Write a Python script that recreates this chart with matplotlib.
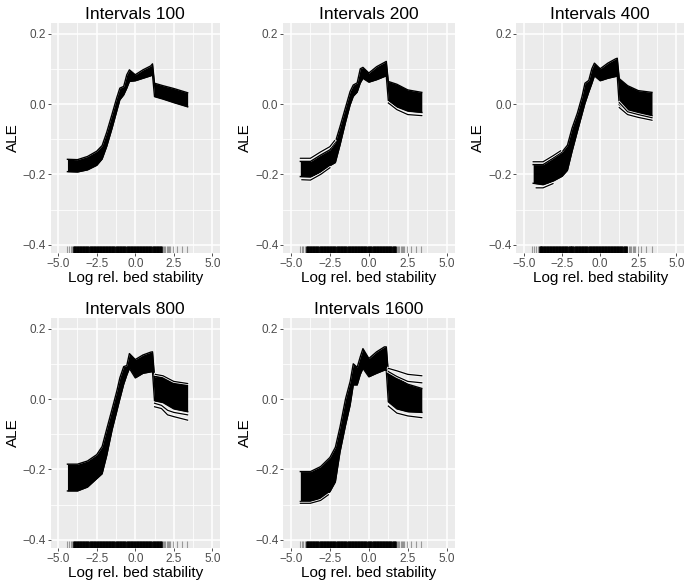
import matplotlib.pyplot as plt
import matplotlib.patheffects as pe

plt.rcParams['font.family'] = ['Liberation Sans', 'DejaVu Sans']

x_knots = [-4.4, -3.75, -3.1, -2.5, -2.15, -1.85, -1.5, -1.2, -1.0, -0.75,
           -0.55, -0.38, 0.0, 0.5, 1.0, 1.12, 1.25, 1.8, 2.5, 3.4]

titles = ['Intervals 100', 'Intervals 200', 'Intervals 400',
          'Intervals 800', 'Intervals 1600']

# upper / lower edge of the bundle of ALE curves, per panel
upper_100 = [-0.157, -0.158, -0.149, -0.134, -0.118, -0.080, -0.028, 0.018, 0.045, 0.050,
             0.083, 0.097, 0.083, 0.097, 0.108, 0.114, 0.059, 0.052, 0.044, 0.032]
lower_100 = [-0.192, -0.193, -0.187, -0.174, -0.156, -0.120, -0.068, -0.020, 0.012, 0.026,
             0.045, 0.064, 0.066, 0.073, 0.080, 0.083, 0.021, 0.014, 0.004, -0.008]

upper_200 = [-0.163, -0.163, -0.145, -0.130, -0.108, -0.064, -0.010, 0.036, 0.054, 0.060,
             0.100, 0.104, 0.088, 0.106, 0.118, 0.121, 0.064, 0.056, 0.040, 0.033]
lower_200 = [-0.206, -0.207, -0.193, -0.175, -0.166, -0.116, -0.052, -0.002, 0.022, 0.034,
             0.060, 0.073, 0.062, 0.069, 0.078, 0.080, 0.010, -0.008, -0.020, -0.024]

upper_400 = [-0.172, -0.172, -0.154, -0.136, -0.117, -0.069, -0.026, 0.020, 0.059, 0.067,
             0.100, 0.116, 0.100, 0.116, 0.128, 0.130, 0.072, 0.052, 0.038, 0.033]
lower_400 = [-0.225, -0.229, -0.219, -0.205, -0.188, -0.135, -0.078, -0.030, 0.002, 0.034,
             0.058, 0.080, 0.066, 0.073, 0.078, 0.080, -0.002, -0.020, -0.028, -0.034]

upper_800 = [-0.185, -0.185, -0.176, -0.158, -0.135, -0.085, -0.028, 0.022, 0.060, 0.092,
             0.095, 0.129, 0.112, 0.125, 0.133, 0.134, 0.063, 0.066, 0.050, 0.044]
lower_800 = [-0.261, -0.261, -0.250, -0.226, -0.212, -0.160, -0.087, -0.035, 0.000, 0.042,
             0.068, 0.087, 0.060, 0.073, 0.077, 0.078, -0.005, -0.010, -0.028, -0.036]

upper_1600 = [-0.206, -0.206, -0.192, -0.166, -0.137, -0.079, 0.000, 0.050, 0.100, 0.090,
              0.120, 0.143, 0.115, 0.134, 0.148, 0.148, 0.075, 0.060, 0.042, 0.030]
lower_1600 = [-0.291, -0.291, -0.282, -0.263, -0.235, -0.150, -0.075, -0.017, 0.040, 0.040,
              0.070, 0.087, 0.063, 0.073, 0.082, 0.082, -0.008, -0.028, -0.036, -0.038]

# single curves that stand apart from the bundle: (x, y)
edges_100 = []
edges_200 = [([-4.4, -3.75, -3.1, -2.5, -2.2], [-0.154, -0.154, -0.136, -0.121, -0.104]),
             ([-4.3, -3.75, -3.1, -2.5], [-0.215, -0.216, -0.200, -0.181]),
             ([1.25, 1.8, 2.5, 3.4], [0.003, -0.016, -0.030, -0.033])]
edges_400 = [([-4.4, -3.75, -3.1, -2.6], [-0.164, -0.164, -0.147, -0.133]),
             ([-4.2, -3.75, -3.1], [-0.238, -0.238, -0.226]),
             ([1.25, 1.8, 2.5, 3.4], [-0.010, -0.030, -0.038, -0.046]),
             ([1.25, 1.8, 2.5, 3.4], [0.004, -0.022, -0.030, -0.039])]
edges_800 = [([1.25, 1.7, 2.1, 2.5, 3.4], [-0.022, -0.027, -0.045, -0.050, -0.060]),
             ([1.25, 1.7, 2.1, 2.5, 3.4], [-0.012, -0.018, -0.032, -0.038, -0.045]),
             ([1.3, 1.8, 2.5, 3.4], [0.070, 0.066, 0.050, 0.044])]
edges_1600 = [([1.25, 1.8, 2.5, 3.4], [0.087, 0.080, 0.070, 0.066]),
              ([1.25, 1.8, 2.5, 3.4], [0.078, 0.064, 0.050, 0.046]),
              ([1.25, 1.8, 2.5, 3.4], [-0.020, -0.040, -0.048, -0.053]),
              ([-4.4, -3.75, -3.1, -2.6], [-0.296, -0.296, -0.288, -0.272])]

uppers = [upper_100, upper_200, upper_400, upper_800, upper_1600]
lowers = [lower_100, lower_200, lower_400, lower_800, lower_1600]
edges = [edges_100, edges_200, edges_400, edges_800, edges_1600]

# rug of observed x values (dense core and sparse tails)
rug_dense = [-3.98, -3.9, -3.8, -3.72, -3.6, -3.52, -3.41, -3.3, -3.22, -3.1, -3.02, -2.9,
             -2.81, -2.7, -2.62, -2.5, -2.41, -2.3, -2.22, -2.1, -2.01, -1.9, -1.82, -1.7,
             -1.61, -1.5, -1.42, -1.3, -1.21, -1.1, -1.02, -0.9, -0.81, -0.7, -0.62, -0.5,
             -0.41, -0.3, -0.22, -0.1, -0.02, 0.1, 0.18, 0.3, 0.38, 0.5, 0.58, 0.7, 0.79,
             0.9, 0.98, 1.1, 1.19, 1.3, 1.38, 1.5, 1.6, 1.7]
rug_light = [-4.45, -4.32, -4.2, -4.08, 1.78, 1.86, 1.95, 2.05, 2.12, 2.2, 2.28,
             2.47, 2.69, 3.01, 3.38]

x_ticks = [-5.0, -2.5, 0.0, 2.5, 5.0]
x_minor = [-3.75, -1.25, 1.25, 3.75]
y_ticks = [-0.4, -0.2, 0.0, 0.2]
y_minor = [-0.3, -0.1, 0.1]

W, H = 685, 582
# panel boxes in pixels: left, top, right, bottom
boxes = [(50.5, 23, 220, 253), (283.2, 23, 454.5, 253), (516.4, 23, 684, 253),
         (50.5, 318, 220, 548), (283.2, 318, 454.5, 548)]

fig = plt.figure(figsize=(W / 100, H / 100), dpi=100)

for i in range(5):
    l, t, r, b = boxes[i]
    ax = fig.add_axes([l / W, 1 - b / H, (r - l) / W, (b - t) / H])
    ax.set_facecolor('#EBEBEB')
    for s in ax.spines.values():
        s.set_visible(False)

    ax.set_xlim(-5.5, 5.5)
    ax.set_ylim(-0.423, 0.23)
    ax.set_xticks(x_ticks)
    ax.set_xticks(x_minor, minor=True)
    ax.set_yticks(y_ticks)
    ax.set_yticks(y_minor, minor=True)
    ax.set_xticklabels(['\u22125.0', '\u22122.5', '0.0', '2.5', '5.0'])
    ax.set_yticklabels(['\u22120.4', '\u22120.2', '0.0', '0.2'])
    ax.grid(which='major', color='white', lw=1.1)
    ax.grid(which='minor', color='white', lw=0.55)
    ax.set_axisbelow(True)
    ax.tick_params(which='major', length=2.5, width=0.6, color='#333333',
                   labelsize=8.5, labelcolor='#4D4D4D', pad=1)
    ax.tick_params(which='minor', length=0)

    ax.fill_between(x_knots, lowers[i], uppers[i], color='black', lw=0)
    ax.plot(x_knots, uppers[i], color='black', lw=1.0)
    ax.plot(x_knots, lowers[i], color='black', lw=1.0)
    for ex, ey in edges[i]:
        ax.plot(ex, ey, color='black', lw=0.9,
                path_effects=[pe.Stroke(linewidth=2.0, foreground='white'), pe.Normal()])

    trans = ax.get_xaxis_transform()
    ax.vlines(rug_dense, 0, 0.03, transform=trans, color='black', lw=2.0, alpha=0.95)
    ax.vlines(rug_light, 0, 0.03, transform=trans, color='black', lw=0.8, alpha=0.35)

    ax.set_title(titles[i], fontsize=12.5, pad=3)
    ax.set_xlabel('Log rel. bed stability', fontsize=11, labelpad=0.5)
    ax.set_ylabel('ALE', fontsize=11, labelpad=2)

fig.savefig('out.png', dpi=100)
